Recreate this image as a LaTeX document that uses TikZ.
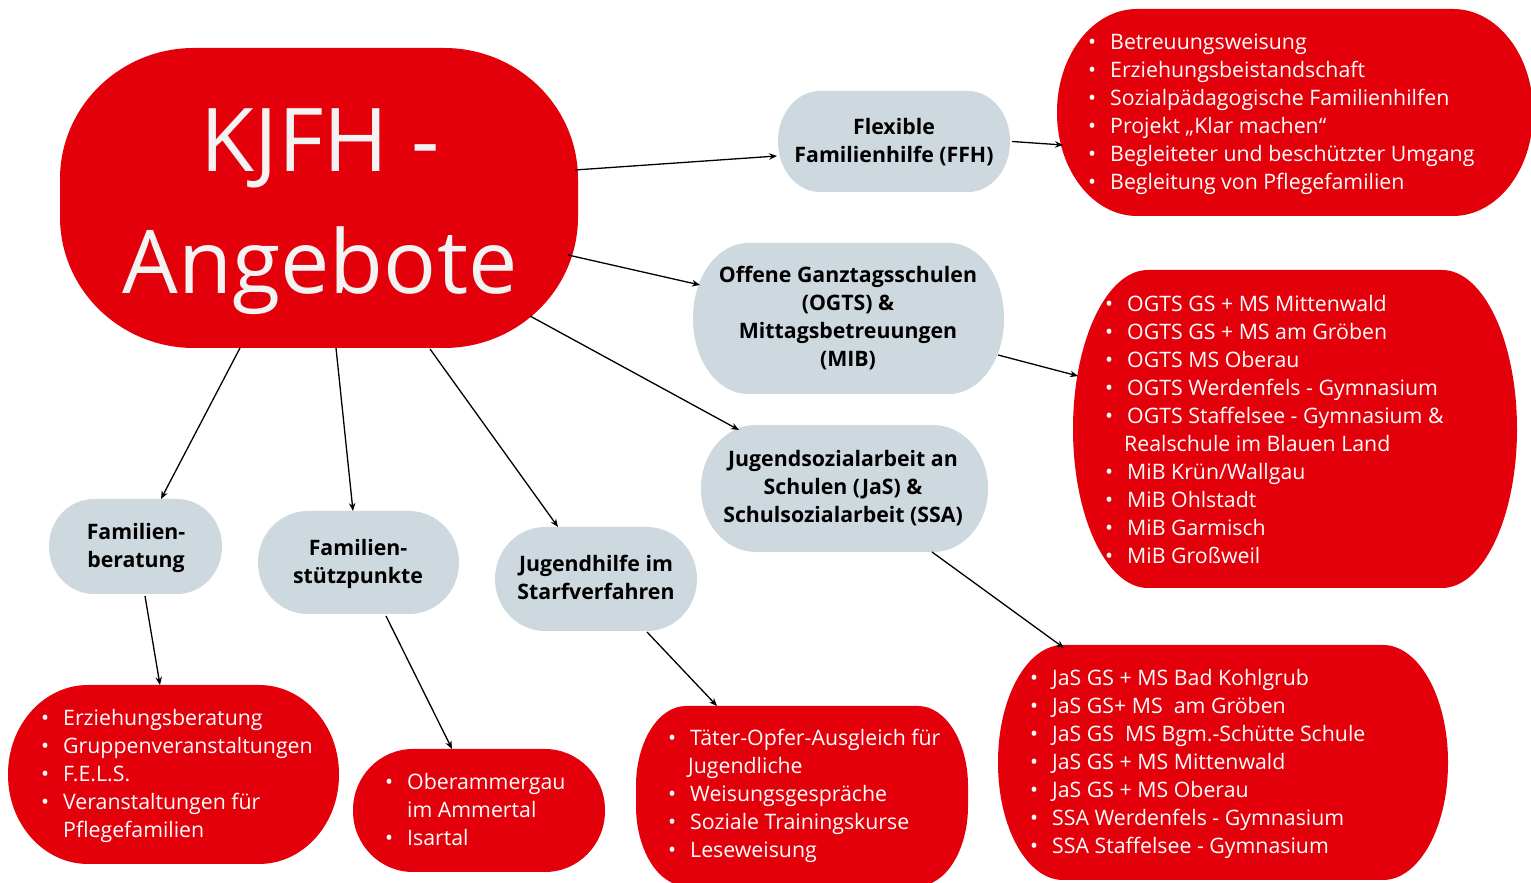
\documentclass[tikz,border=0pt]{standalone}
\usepackage{fontspec}
\setmainfont{Open Sans}
\usetikzlibrary{calc,arrows.meta}
\pgfdeclarelayer{bg}
\pgfsetlayers{bg,main}
\definecolor{kred}{RGB}{227,0,11}
\definecolor{kgrey}{RGB}{205,216,223}
\definecolor{kwhite}{RGB}{243,243,243}
\newcommand\blob[4]{%
  \fill[#4] ([xshift=#2pt]#1.north west) -- ([xshift=-#2pt]#1.north east)
    arc[start angle=90,end angle=0,x radius=#2pt,y radius=#3pt]
    -- ([yshift=#3pt]#1.south east)
    arc[start angle=0,end angle=-90,x radius=#2pt,y radius=#3pt]
    -- ([xshift=#2pt]#1.south west)
    arc[start angle=-90,end angle=-180,x radius=#2pt,y radius=#3pt]
    -- ([yshift=-#3pt]#1.north west)
    arc[start angle=180,end angle=90,x radius=#2pt,y radius=#3pt] -- cycle;}
\newcommand\clines[2]{\vtop{\baselineskip=#1pt\lineskiplimit=-200pt\halign{\hfil##\hfil\cr#2\crcr}}}
\newcommand\blist[1]{\vtop{\baselineskip=28pt\lineskiplimit=-200pt\halign{##\hfil\cr#1\crcr}}}
\newcommand\itm{\llap{•\hskip 14pt}}
\begin{document}
\begin{tikzpicture}[x=1pt,y=1pt,
  shp/.style={inner sep=0pt,outer sep=0pt},
  conn/.style={line width=1.3pt,-{Stealth[length=8pt,width=6.5pt]}},
  gtext/.style={anchor=base,inner sep=0pt,text=black,font=\bfseries\fontsize{21.3}{28}\selectfont},
  ltext/.style={anchor=base west,inner sep=0pt,text=white,font=\fontsize{21.3}{28}\selectfont}]
\useasboundingbox (0,0) rectangle (1531,883);
% shapes
\node[shp,minimum width=518pt,minimum height=300pt] (kjfh) at (319,685) {};
\node[shp,minimum width=232pt,minimum height=101pt] (ffh) at (894,741.5) {};
\node[shp,minimum width=476pt,minimum height=207pt] (lffh) at (1295,770.5) {};
\node[shp,minimum width=311pt,minimum height=151pt] (ogts) at (848.5,564.5) {};
\node[shp,minimum width=444pt,minimum height=318pt] (logts) at (1295,454) {};
\node[shp,minimum width=287pt,minimum height=127pt] (jas) at (844.5,394.5) {};
\node[shp,minimum width=450pt,minimum height=235pt] (ljas) at (1223,120.5) {};
\node[shp,minimum width=173pt,minimum height=95pt] (famber) at (135.5,336.5) {};
\node[shp,minimum width=201pt,minimum height=103pt] (famst) at (358.5,320.5) {};
\node[shp,minimum width=202pt,minimum height=104pt] (jugend) at (596,304) {};
\node[shp,minimum width=331pt,minimum height=179pt] (lber) at (173.5,108.5) {};
\node[shp,minimum width=252pt,minimum height=123pt] (lst) at (479,72.5) {};
\node[shp,minimum width=332pt,minimum height=180pt] (ljug) at (802,87) {};
\begin{pgfonlayer}{bg}
\blob{kjfh}{134}{131}{kred}
\blob{ffh}{42}{50}{kgrey}
\blob{lffh}{80}{103}{kred}
\blob{ogts}{55}{75}{kgrey}
\blob{logts}{75}{159}{kred}
\blob{jas}{55}{63}{kgrey}
\blob{ljas}{65}{117}{kred}
\blob{famber}{45}{47}{kgrey}
\blob{famst}{50}{51}{kgrey}
\blob{jugend}{50}{52}{kgrey}
\blob{lber}{80}{89}{kred}
\blob{lst}{60}{61}{kred}
\blob{ljug}{50}{80}{kred}
\end{pgfonlayer}
% texts
\node[anchor=base,inner sep=0pt,text=kwhite,font=\fontsize{88}{122}\selectfont] (tkjfh) at (320,711) {\clines{122}{KJFH -\cr Angebote}};
\node[gtext] (tffh) at (894,748) {\clines{28}{Flexible\cr Familienhilfe (FFH)}};
\node[gtext] (togts) at (848,600) {\clines{28}{Offene Ganztagsschulen\cr (OGTS) \&\cr Mittagsbetreuungen\cr (MIB)}};
\node[gtext] (tjas) at (843,416) {\clines{28}{Jugendsozialarbeit an\cr Schulen (JaS) \&\cr Schulsozialarbeit (SSA)}};
\node[gtext] (tfamber) at (136,343) {\clines{28}{Familien-\cr beratung}};
\node[gtext] (tfamst) at (358,327) {\clines{28}{Familien-\cr stützpunkte}};
\node[gtext] (tjugend) at (596,311) {\clines{28}{Jugendhilfe im\cr Starfverfahren}};
\node[ltext] (tlffh) at (1110,833) {\blist{%
\itm Betreuungsweisung\cr
\itm Erziehungsbeistandschaft\cr
\itm Sozialpädagogische Familienhilfen\cr
\itm Projekt „Klar machen“\cr
\itm Begleiteter und beschützter Umgang\cr
\itm Begleitung von Pflegefamilien}};
\node[ltext] (tlogts) at (1127,571) {\blist{%
\itm OGTS GS + MS Mittenwald\cr
\itm OGTS GS + MS am Gröben\cr
\itm OGTS MS Oberau\cr
\itm OGTS Werdenfels - Gymnasium\cr
\itm OGTS Staffelsee - Gymnasium \&\cr
\hskip-3pt Realschule im Blauen Land\cr
\itm MiB Krün/Wallgau\cr
\itm MiB Ohlstadt\cr
\itm MiB Garmisch\cr
\itm MiB Großweil}};
\node[ltext] (tljas) at (1052,197) {\blist{%
\itm JaS GS + MS Bad Kohlgrub\cr
\itm JaS GS+ MS\ \ am Gröben\cr
\itm JaS GS\ \ MS Bgm.-Schütte Schule\cr
\itm JaS GS + MS Mittenwald\cr
\itm JaS GS + MS Oberau\cr
\itm SSA Werdenfels - Gymnasium\cr
\itm SSA Staffelsee - Gymnasium}};
\node[ltext] (tlber) at (63,157) {\blist{%
\itm Erziehungsberatung\cr
\itm Gruppenveranstaltungen\cr
\itm F.E.L.S.\cr
\itm Veranstaltungen für\cr
Pflegefamilien}};
\node[ltext] (tlst) at (407,93) {\blist{%
\itm Oberammergau\cr
im Ammertal\cr
\itm Isartal}};
\node[ltext] (tljug) at (690,137) {\blist{%
\itm Täter-Opfer-Ausgleich für\cr
\hskip-2pt Jugendliche\cr
\itm Weisungsgespräche\cr
\itm Soziale Trainingskurse\cr
\itm Leseweisung}};
% connectors
\draw[conn] ([shift={(-3,28)}]kjfh.east) -- ([shift={(-1,-14.5)}]ffh.west);
\draw[conn] ([shift={(2,0)}]ffh.east) -- ([shift={(6,-32.5)}]lffh.west);
\draw[conn] ([shift={(-10,-57)}]kjfh.east) -- ([shift={(7,33.5)}]ogts.west);
\draw[conn] ([shift={(-6,-36.5)}]ogts.east) -- ([shift={(5,53)}]logts.west);
\draw[conn] ([shift={(-48,32)}]kjfh.south east) -- ([shift={(38,-5)}]jas.north west);
\draw[conn] ([shift={(-56,0)}]jas.south east) -- ([shift={(66,-3)}]ljas.north west);
\draw[conn] ([shift={(-79,0)}]kjfh.south) -- ([shift={(25.5,0)}]famber.north);
\draw[conn] ([shift={(17,0)}]kjfh.south) -- ([shift={(-5.5,0)}]famst.north);
\draw[conn] ([shift={(111,-1)}]kjfh.south) -- ([shift={(-38,0)}]jugend.north);
\draw[conn] ([shift={(9.5,-2)}]famber.south) -- ([shift={(-13.5,0)}]lber.north);
\draw[conn] ([shift={(27.5,-2)}]famst.south) -- ([shift={(-27,0)}]lst.north);
\draw[conn] ([shift={(51,-1)}]jugend.south) -- ([shift={(-85,0)}]ljug.north);
\end{tikzpicture}
\end{document}
